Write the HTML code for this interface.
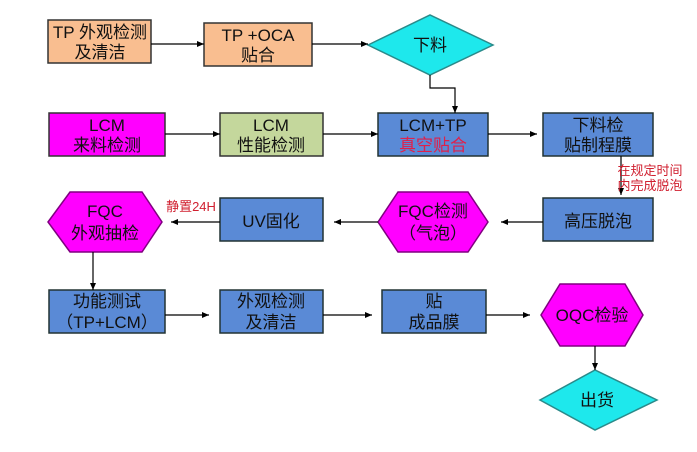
<!DOCTYPE html>
<html><head><meta charset="utf-8"><style>
html,body{margin:0;padding:0;background:#fff;}
svg text{font-family:"Liberation Sans","Noto Sans CJK SC",sans-serif;font-size:17px;text-anchor:middle;}
</style></head><body>
<svg width="697" height="447" viewBox="0 0 697 447" xmlns="http://www.w3.org/2000/svg">
<defs>
<marker id="a" markerWidth="8" markerHeight="8" refX="7" refY="4" orient="auto" markerUnits="userSpaceOnUse"><path d="M0,1 L7,4 L0,7 Z" fill="#000"/></marker>
</defs>
<g stroke="#333" stroke-width="1.5">
<rect x="48" y="20" width="103" height="43" fill="#F9BE90"/>
<rect x="204" y="23" width="108" height="43" fill="#F9BE90"/>
<polygon points="368,45 430,15 493,45 430,75" fill="#1EE8EC" stroke="#2a8a8a"/>
<rect x="49" y="113" width="116" height="43" fill="#FF00FF"/>
<rect x="220" y="113" width="103" height="43" fill="#C4D79C"/>
<rect x="378" y="113" width="110" height="43" fill="#5A8AD6" stroke="#233"/>
<rect x="543" y="113" width="110" height="43" fill="#5A8AD6" stroke="#233"/>
<polygon points="48,222 70,192 142,192 162,222 142,252 70,252" fill="#FF00FF" stroke="#800080"/>
<rect x="220" y="198" width="103" height="43" fill="#5A8AD6" stroke="#233"/>
<polygon points="378,222 398,192 468,192 488,222 468,252 398,252" fill="#FF00FF" stroke="#800080"/>
<rect x="543" y="198" width="110" height="43" fill="#5A8AD6" stroke="#233"/>
<rect x="49" y="290" width="116" height="43" fill="#5A8AD6" stroke="#233"/>
<rect x="220" y="290" width="103" height="43" fill="#5A8AD6" stroke="#233"/>
<rect x="382" y="290" width="104" height="43" fill="#5A8AD6" stroke="#233"/>
<polygon points="541,315 560,284 625,284 643,315 625,346 560,346" fill="#FF00FF" stroke="#800080"/>
<polygon points="540,400 595,370 657,400 595,430" fill="#1EE8EC" stroke="#2a8a8a"/>
</g>
<g stroke="#000" stroke-width="1.2" fill="none" marker-end="url(#a)">
<line x1="151" y1="44" x2="204" y2="44"/>
<line x1="312" y1="44" x2="368" y2="44"/>
<polyline points="430,75 430,88 455,88 455,113"/>
<line x1="165" y1="134" x2="220" y2="134"/>
<line x1="323" y1="134" x2="378" y2="134"/>
<line x1="488" y1="134" x2="537" y2="134"/>
<line x1="621" y1="156" x2="621" y2="195"/>
<line x1="543" y1="222" x2="501" y2="222"/>
<line x1="378" y1="222" x2="334" y2="222"/>
<line x1="220" y1="222" x2="171" y2="222"/>
<line x1="93" y1="252" x2="93" y2="290"/>
<line x1="165" y1="315" x2="209" y2="315"/>
<line x1="323" y1="315" x2="372" y2="315"/>
<line x1="486" y1="315" x2="530" y2="315"/>
<line x1="595" y1="346" x2="595" y2="370"/>
</g>
<g fill="#111">
<text x="100" y="38">TP 外观检测</text><text x="100" y="58">及清洁</text>
<text x="258" y="41">TP +OCA</text><text x="258" y="61">贴合</text>
<text x="430" y="51">下料</text>
<text x="107" y="131">LCM</text><text x="107" y="151">来料检测</text>
<text x="271" y="131">LCM</text><text x="271" y="151">性能检测</text>
<text x="433" y="131">LCM+TP</text><text x="433" y="151" fill="#E0204A">真空贴合</text>
<text x="598" y="131">下料检</text><text x="598" y="151">贴制程膜</text>
<text x="105" y="217">FQC</text><text x="105" y="239">外观抽检</text>
<text x="271" y="227">UV固化</text>
<text x="433" y="217">FQC检测</text><text x="433" y="239">（气泡）</text>
<text x="598" y="227">高压脱泡</text>
<text x="107" y="307">功能测试</text><text x="107" y="328">（TP+LCM）</text>
<text x="271" y="307">外观检测</text><text x="271" y="328">及清洁</text>
<text x="434" y="307">贴</text><text x="434" y="328">成品膜</text>
<text x="592" y="321">OQC检验</text>
<text x="597" y="406">出货</text>
</g>
<g fill="#D02030">
<text x="650" y="175" style="font-size:13px">在规定时间</text>
<text x="650" y="190" style="font-size:13px">内完成脱泡</text>
<text x="191" y="211" style="font-size:13px">静置24H</text>
</g>
</svg>
</body></html>
